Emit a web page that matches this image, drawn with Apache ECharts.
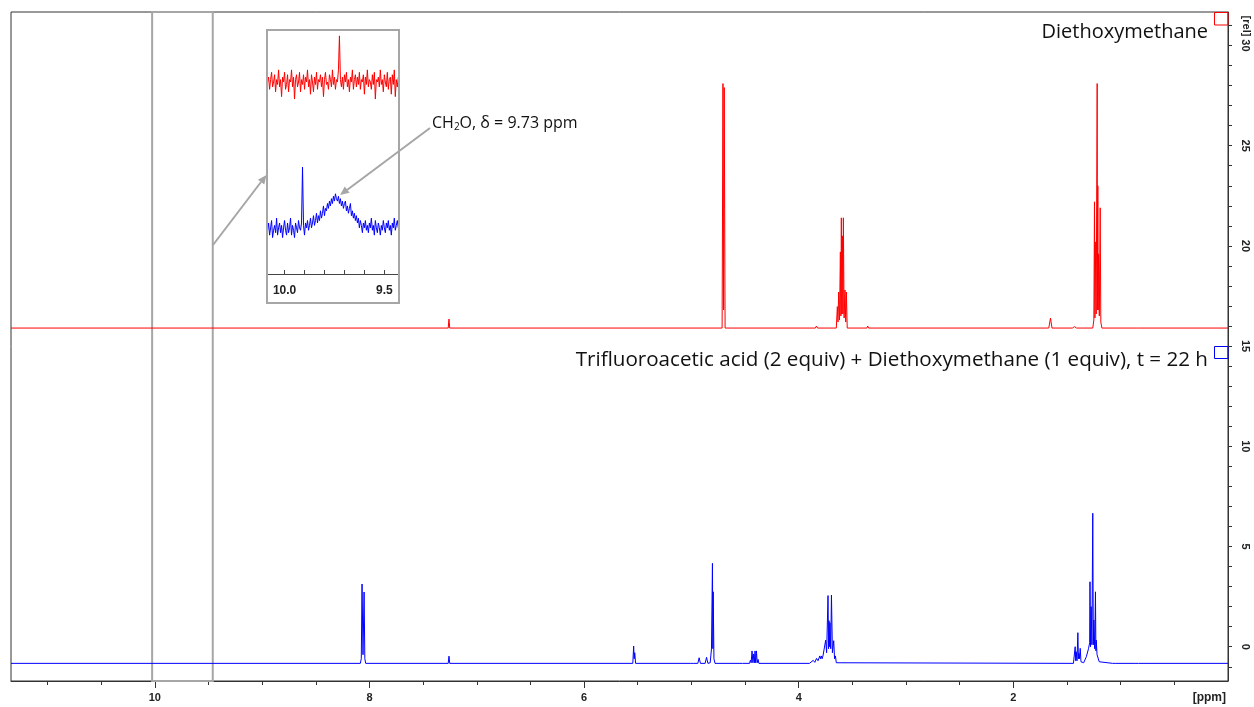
<!DOCTYPE html>
<html>
<head>
<meta charset="utf-8">
<script src="https://cdn.jsdelivr.net/npm/echarts@6/dist/echarts.min.js"></script>
<style>
html,body{margin:0;padding:0;background:#fff;}
#main{width:1254px;height:707px;}
</style>
</head>
<body>
<div id="main"></div>
<script>
/* axis ticks / labels */
var xMajorTicks = [2, 4, 6, 8, 10];
var xMinorTicks = [0.5, 1, 1.5, 2.5, 3, 3.5, 4.5, 5, 5.5, 6.5, 7, 7.5, 8.5, 9, 9.5, 10.5, 11];
var yTicks = [-1, 0, 1, 2, 3, 4, 5, 6, 7, 8, 9, 10, 11, 12, 13, 14, 15, 16, 17, 18, 19, 20, 21, 22, 23, 24, 25, 26, 27, 28, 29, 30, 31];
var yLabels = [0, 5, 10, 15, 20, 25, 30];
var insetTicks = [10.0, 9.9, 9.8, 9.7, 9.6, 9.5];
var insetLabels = [10.0, 9.5];

/* zoomed region shown in the inset (ppm) */
var zoomRegion = [10.025, 9.46];

/* Diethoxymethane spectrum [ppm, rel] */
var redSpectrum = [
    [11.34, 15.9], [7.266, 15.9], [7.259, 16.35], [7.252, 15.9],
    [4.714, 15.9], [4.706, 28.1], [4.700, 16.8], [4.694, 27.9], [4.686, 15.9],
    [3.845, 15.9], [3.835, 16.0], [3.825, 15.9],
    [3.650, 15.9], [3.640, 16.97], [3.634, 16.2], [3.628, 17.7], [3.620, 16.3], [3.612, 19.7], [3.607, 16.5],
    [3.603, 21.4], [3.598, 16.6], [3.593, 20.5], [3.588, 16.6], [3.584, 21.4], [3.577, 16.4], [3.569, 17.8],
    [3.562, 16.2], [3.556, 17.7], [3.548, 15.9],
    [3.365, 15.9], [3.357, 16.0], [3.349, 15.9],
    [1.670, 15.9], [1.654, 16.4], [1.640, 15.9],
    [1.45, 15.9], [1.43, 15.97], [1.41, 15.9],
    [1.26, 15.9], [1.25, 16.3], [1.244, 22.2], [1.240, 16.4], [1.237, 20.2], [1.228, 16.6], [1.219, 28.1],
    [1.216, 16.8], [1.213, 23.0], [1.210, 16.8], [1.207, 19.6], [1.199, 16.5], [1.191, 21.9], [1.185, 16.2],
    [1.175, 15.9],
    [1.025, 15.9], [1.02, 15.97], [1.015, 15.9], [0.845, 15.9], [0.84, 15.97], [0.835, 15.9], [0, 15.9]
];

/* TFA + Diethoxymethane, t = 22 h [ppm, rel] */
var blueSpectrum = [
    [11.34, -0.83], [8.085, -0.83], [8.076, -0.6], [8.069, 3.13], [8.060, -0.4], [8.050, 2.73], [8.043, -0.6], [8.035, -0.83],
    [7.266, -0.83], [7.259, -0.47], [7.252, -0.83],
    [5.546, -0.83], [5.538, 0.03], [5.533, -0.6], [5.528, -0.3], [5.520, -0.83],
    [5.005, -0.83], [4.994, -0.75], [4.983, -0.83], [4.940, -0.83], [4.928, -0.55], [4.916, -0.83],
    [4.872, -0.83], [4.859, -0.53], [4.846, -0.83], [4.825, -0.8], [4.813, -0.11], [4.808, -0.2], [4.804, 4.16],
    [4.800, -0.1], [4.797, 2.74], [4.790, -0.6], [4.780, -0.83],
    [4.525, -0.83], [4.519, -0.75], [4.513, -0.83],
    [4.458, -0.83], [4.450, -0.67], [4.443, -0.8], [4.435, -0.21], [4.427, -0.8], [4.419, -0.36], [4.413, -0.8],
    [4.407, -0.21], [4.401, -0.8], [4.394, -0.21], [4.387, -0.8], [4.379, -0.63], [4.371, -0.83],
    [3.90, -0.83], [3.865, -0.68], [3.85, -0.78], [3.834, -0.58], [3.82, -0.7], [3.804, -0.46], [3.797, -0.6],
    [3.789, -0.46], [3.782, -0.6], [3.774, -0.46], [3.762, -0.55], [3.749, 0.33], [3.740, -0.3], [3.727, 2.55],
    [3.722, -0.1], [3.718, 1.3], [3.714, 0.0], [3.709, 1.2], [3.702, -0.1], [3.695, 2.58], [3.686, -0.3],
    [3.674, 0.3], [3.666, -0.6], [3.658, -0.46], [3.650, -0.8], [3.640, -0.83],
    [1.44, -0.83], [1.424, 0.0], [1.419, -0.7], [1.414, -0.25], [1.407, -0.7], [1.399, 0.70], [1.394, -0.6],
    [1.390, -0.33], [1.384, -0.6], [1.377, -0.08], [1.370, -0.75], [1.345, -0.8], [1.32, -0.5], [1.30, -0.1],
    [1.289, 0.2], [1.286, 3.24], [1.281, 0.0], [1.275, 2.0], [1.268, 0.1], [1.260, 6.66], [1.255, 0.1],
    [1.250, 1.33], [1.242, -0.1], [1.235, 2.74], [1.231, -0.2], [1.228, 0.33], [1.22, -0.4], [1.20, -0.75],
    [1.19, -0.83],
    [1.075, -0.83], [1.07, -0.76], [1.065, -0.83], [1.045, -0.83], [1.04, -0.76], [1.035, -0.83],
    [0.875, -0.83], [0.87, -0.75], [0.865, -0.83], [0.835, -0.83], [0.83, -0.75], [0.825, -0.83], [0, -0.83]
];

/* inset traces, sampled every 0.005 ppm from 10.085 ppm */
var insetStart = 10.085;
var insetStep = 0.005;
var insetRed = [
    79, 81, 76, 80, 83, 77, 79, 82, 75, 80,
    78, 84, 77, 80, 73, 81, 79, 83, 76, 78,
    82, 75, 80, 79, 84, 77, 81, 72, 80, 82,
    77, 79, 83, 75, 80, 78, 82, 76, 81, 79,
    84, 77, 80, 74, 82, 79, 75, 81, 78, 83,
    76, 80, 79, 82, 77, 81, 73, 80, 83, 78,
    79, 76, 82, 80, 77, 84, 78, 81, 76, 80,
    79, 84, 98, 80, 77, 81, 76, 82, 79, 83,
    77, 80, 75, 81, 79, 84, 76, 80, 82, 77,
    81, 78, 83, 76, 80, 79, 82, 74, 81, 78,
    84, 77, 80, 79, 76, 82, 78, 83, 72, 80,
    79, 81, 77, 84, 78, 80, 75, 82, 79, 77,
    83, 76, 80, 81, 74, 82, 78, 84, 73, 80,
    77, 81
];
var insetBlue = [
    18, 21, 16, 19, 22, 15, 18, 20, 17, 23,
    16, 19, 21, 17, 20, 15, 19, 22, 18, 16,
    21, 17, 19, 23, 16, 20, 18, 15, 21, 19,
    17, 22, 19, 18, 21, 44, 20, 16, 21, 19,
    22, 18, 20, 23, 19, 21, 24, 20, 22, 25,
    21, 24, 22, 26, 23, 25, 28, 24, 27, 26,
    29, 27, 30, 28, 31, 29, 32, 30, 33, 31,
    30, 32, 29, 31, 28, 30, 27, 29, 30, 26,
    28, 25, 27, 29, 24, 26, 23, 25, 22, 24,
    21, 23, 19, 22, 20, 17, 21, 19, 22, 18,
    20, 17, 21, 19, 23, 18, 20, 16, 22, 19,
    17, 21, 19, 16, 20, 18, 22, 19, 17, 21,
    19, 22, 18, 20, 16, 21, 19, 23, 18, 20,
    22, 19
];

function toInsetSeries(values) {
    var out = [];
    for (var i = 0; i < values.length; i++) {
        out.push([insetStart - i * insetStep, values[i]]);
    }
    return out;
}

var axisFont = 'Liberation Sans, Arial, sans-serif';
var textFont = 'Open Sans, Noto Sans, sans-serif';
var grey = '#a6a6a6';

var myChart = echarts.init(document.getElementById('main'));
var option = {
    animation: false,
    backgroundColor: '#fff',
    grid: [
        {left: 11, right: 26, top: 12, bottom: 26, show: true, borderColor: '#333', borderWidth: 1, backgroundColor: 'transparent'},
        {left: 267, top: 31, width: 132, height: 243, show: false}
    ],
    xAxis: [
        {
            gridIndex: 0, type: 'value', inverse: true, min: 0, max: 11.34, position: 'bottom',
            axisLine: {onZero: false, lineStyle: {color: '#333', width: 1}},
            axisTick: {customValues: xMajorTicks, length: 7, lineStyle: {color: '#333'}},
            axisLabel: {customValues: xMajorTicks, margin: 11, fontSize: 11, fontWeight: 'bold', color: '#222', fontFamily: axisFont},
            splitLine: {show: false}
        },
        {
            gridIndex: 0, type: 'value', inverse: true, min: 0, max: 11.34, position: 'bottom',
            axisLine: {show: false, onZero: false},
            axisTick: {customValues: xMinorTicks, length: 4, lineStyle: {color: '#333'}},
            axisLabel: {show: false},
            splitLine: {show: false}
        },
        {
            gridIndex: 1, type: 'value', inverse: true, min: 9.4265, max: 10.088, position: 'bottom',
            axisLine: {onZero: false, lineStyle: {color: '#444', width: 1}},
            axisTick: {customValues: insetTicks, inside: true, length: 4, lineStyle: {color: '#444'}},
            axisLabel: {
                customValues: insetLabels, margin: 11, fontSize: 12, fontWeight: 'bold', color: '#222', fontFamily: axisFont,
                formatter: function (v) { return v.toFixed(1); }
            },
            splitLine: {show: false}
        }
    ],
    yAxis: [
        {
            gridIndex: 0, type: 'value', position: 'right', min: -1.71, max: 31.67,
            axisLine: {show: true, onZero: false, lineStyle: {color: '#333', width: 1}},
            axisTick: {show: true, customValues: yTicks, length: 4, lineStyle: {color: '#333'}},
            axisLabel: {customValues: yLabels, rotate: -90, margin: 12, fontSize: 11, fontWeight: 'bold', color: '#222', fontFamily: axisFont},
            splitLine: {show: false}
        },
        {gridIndex: 1, type: 'value', min: 0, max: 100, show: false}
    ],
    series: [
        {
            name: 'Diethoxymethane', type: 'line', xAxisIndex: 0, yAxisIndex: 0,
            data: redSpectrum, symbol: 'none',
            lineStyle: {color: '#ff0000', width: 1},
            markArea: {
                silent: true,
                itemStyle: {color: 'rgba(0,0,0,0)', borderColor: grey, borderWidth: 2},
                data: [[{xAxis: zoomRegion[0]}, {xAxis: zoomRegion[1]}]]
            }
        },
        {
            name: 'TFA + Diethoxymethane', type: 'line', xAxisIndex: 0, yAxisIndex: 0,
            data: blueSpectrum, symbol: 'none',
            lineStyle: {color: '#0000ff', width: 1}
        },
        {
            type: 'line', xAxisIndex: 2, yAxisIndex: 1,
            data: toInsetSeries(insetRed), symbol: 'none',
            lineStyle: {color: '#ff0000', width: 1}
        },
        {
            type: 'line', xAxisIndex: 2, yAxisIndex: 1,
            data: toInsetSeries(insetBlue), symbol: 'none',
            lineStyle: {color: '#0000ff', width: 1}
        }
    ],
    graphic: [
        /* inset frame */
        {type: 'rect', shape: {x: 267, y: 30, width: 132, height: 273}, style: {fill: 'none', stroke: grey, lineWidth: 2}, z: 10},
        /* arrows */
        {type: 'line', shape: {x1: 213, y1: 245, x2: 261, y2: 182}, style: {stroke: grey, lineWidth: 2}, z: 10},
        {type: 'polygon', shape: {points: [[266.5, 175], [264.3, 184.6], [257.9, 179.8]]}, style: {fill: grey}, z: 10},
        {type: 'line', shape: {x1: 430, y1: 128, x2: 347, y2: 190}, style: {stroke: grey, lineWidth: 2}, z: 10},
        {type: 'polygon', shape: {points: [[340, 195], [349.6, 192.8], [344.8, 186.4]]}, style: {fill: grey}, z: 10},
        /* spectrum markers */
        {type: 'rect', shape: {x: 1214.5, y: 12.5, width: 13.5, height: 12.5}, style: {fill: 'none', stroke: '#ff0000', lineWidth: 1}, z: 10},
        {type: 'rect', shape: {x: 1214.5, y: 346.5, width: 13.5, height: 12}, style: {fill: 'none', stroke: '#0000ff', lineWidth: 1}, z: 10},
        /* texts */
        {type: 'text', x: 1208, y: 32, style: {text: 'Diethoxymethane', fill: '#111', font: '20px ' + textFont, align: 'right', verticalAlign: 'middle'}, z: 10},
        {type: 'text', x: 1208, y: 360, style: {text: 'Trifluoroacetic acid (2 equiv) + Diethoxymethane (1 equiv), t = 22 h', fill: '#111', font: '20.6px ' + textFont, align: 'right', verticalAlign: 'middle'}, z: 10},
        {
            type: 'text', x: 432, y: 123, z: 10,
            style: {
                text: '{n|CH}{s|2}{n|O, δ = 9.73 ppm}', align: 'left', verticalAlign: 'middle',
                rich: {
                    n: {fontSize: 16, fontFamily: textFont, fill: '#111', color: '#111'},
                    s: {fontSize: 10, fontFamily: textFont, fill: '#111', color: '#111', padding: [9, 0, 0, 0]}
                }
            }
        },
        {type: 'text', x: 1226, y: 698, style: {text: '[ppm]', fill: '#222', font: 'bold 12px ' + axisFont, align: 'right', verticalAlign: 'middle'}, z: 10},
        {type: 'text', x: 1246, y: 26, rotation: -Math.PI / 2, style: {text: '[rel]', fill: '#222', font: 'bold 11px ' + axisFont, align: 'center', verticalAlign: 'middle'}, z: 10}
    ]
};
myChart.setOption(option);
</script>
</body>
</html>
